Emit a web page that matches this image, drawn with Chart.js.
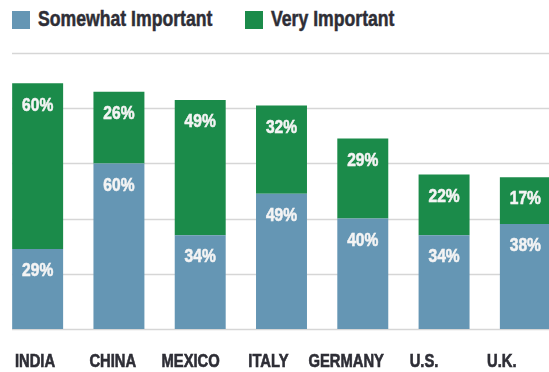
<!DOCTYPE html>
<html>
<head>
<meta charset="utf-8">
<script src="https://cdn.jsdelivr.net/npm/chart.js@4/dist/chart.umd.min.js"></script>
<style>
  html, body { margin:0; padding:0; background:#fff; overflow:hidden; }
  body { width:549px; height:372px; position:relative; }
  #chart { position:absolute; left:-3px; top:0; }
  .lg-item { position:absolute; top:9px; display:flex; align-items:center; line-height:21px;
             font-family:"Liberation Sans",Arial,sans-serif; font-weight:bold;
             font-size:21.5px; color:#2e2e36; white-space:nowrap; }
  .lg-box { width:18px; height:18px; margin-right:8px; flex:none; }
  .lg-text { display:inline-block; transform:scaleX(0.82); transform-origin:left center;
             -webkit-text-stroke:0.5px #2e2e36; }
</style>
</head>
<body>
<div id="legend"></div>
<canvas id="chart" width="569" height="372"></canvas>
<script>
// ── Data ──────────────────────────────────────────────────────────────────────
const categories = ['INDIA', 'CHINA', 'MEXICO', 'ITALY', 'GERMANY', 'U.S.', 'U.K.'];
const somewhatImportant = [29, 60, 34, 49, 40, 34, 38];
const veryImportant     = [60, 26, 49, 32, 29, 22, 17];
const seriesNames = ['Somewhat Important', 'Very Important'];
const yTicks = [0, 20, 40, 60, 80, 100];

const BLUE  = '#6596b4';
const GREEN = '#1b8b4a';
const FONT  = '"Liberation Sans",Arial,sans-serif';
const NARROW = 0.82;   // squeeze to mimic the condensed face of the original

// ── Legend (html) ─────────────────────────────────────────────────────────────
const legendX = [12, 245];
document.getElementById('legend').innerHTML = seriesNames.map((name, i) => `
  <div class="lg-item" style="left:${legendX[i]}px">
    <div class="lg-box" style="background:${[BLUE, GREEN][i]}"></div><span class="lg-text">${name}</span>
  </div>`).join('');

// draw condensed, slightly heavier text centred on x
function narrowText(ctx, text, x, y) {
  ctx.save();
  ctx.translate(x, y);
  ctx.scale(NARROW, 1);
  ctx.strokeStyle = ctx.fillStyle;
  ctx.lineWidth = 0.6;
  ctx.fillText(text, 0, 0);
  ctx.strokeText(text, 0, 0);
  ctx.restore();
}

// ── Plugins ───────────────────────────────────────────────────────────────────
const gridLines = {
  id: 'gridLines',
  beforeDatasetsDraw(chart) {
    const { ctx, scales: { y } } = chart;
    ctx.save();
    ctx.strokeStyle = '#d6d6d6';
    ctx.lineWidth = 1.5;
    yTicks.forEach(v => {
      const py = Math.round(y.getPixelForValue(v)) + 0.5;
      ctx.beginPath();
      ctx.moveTo(15, py);
      ctx.lineTo(chart.width, py);
      ctx.stroke();
    });
    ctx.restore();
  }
};

const valueLabels = {
  id: 'valueLabels',
  afterDatasetsDraw(chart) {
    const { ctx } = chart;
    ctx.save();
    ctx.font = `bold 19px ${FONT}`;
    ctx.fillStyle = '#f4f4f4';
    ctx.textAlign = 'center';
    ctx.textBaseline = 'middle';
    chart.data.datasets.forEach((ds, di) => {
      chart.getDatasetMeta(di).data.forEach((bar, i) => {
        narrowText(ctx, ds.data[i] + '%', bar.x, bar.y + 22);
      });
    });
    ctx.restore();
  }
};

// category names sit on their own (slightly tighter) scale, like the original
const categoryLabels = {
  id: 'categoryLabels',
  afterDraw(chart) {
    const { ctx, scales: { x2 } } = chart;
    ctx.save();
    ctx.font = `bold 18px ${FONT}`;
    ctx.fillStyle = '#2e2e36';
    ctx.textAlign = 'center';
    ctx.textBaseline = 'middle';
    categories.forEach((c, i) => narrowText(ctx, c, x2.getPixelForValue(i), 362));
    ctx.restore();
  }
};

// ── Chart ─────────────────────────────────────────────────────────────────────
new Chart(document.getElementById('chart').getContext('2d'), {
  type: 'bar',
  data: {
    labels: categories,
    datasets: [
      { label: seriesNames[0], data: somewhatImportant, backgroundColor: BLUE },
      { label: seriesNames[1], data: veryImportant, backgroundColor: GREEN }
    ]
  },
  options: {
    responsive: false,
    animation: false,
    events: [],
    layout: { autoPadding: false, padding: { top: 53, bottom: 43, left: 0, right: 0 } },
    datasets: { bar: { categoryPercentage: 1, barPercentage: 0.627 } },
    plugins: { legend: { display: false }, tooltip: { enabled: false } },
    scales: {
      x: { stacked: true, display: false },
      x2: { type: 'linear', display: false, offset: false, min: -0.4884, max: 6.825 },
      y: { stacked: true, display: false, min: 0, max: 100 }
    }
  },
  plugins: [gridLines, valueLabels, categoryLabels]
});
</script>
</body>
</html>
